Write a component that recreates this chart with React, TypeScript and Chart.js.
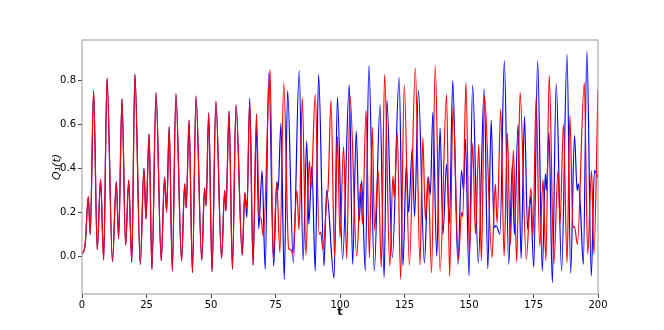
import React, { useEffect, useRef } from "react";
import { Chart, registerables } from "chart.js";

Chart.register(...registerables);

const FONT = "'DejaVu Sans', sans-serif";

const xTicks = [0, 25, 50, 75, 100, 125, 150, 175, 200];
const yTicks = [0.0, 0.2, 0.4, 0.6, 0.8];

// Both series coincide up to t ≈ 63
const sharedSeries: [number, number][] = [
  [0, 0.01], [1.2, 0.05], [2.45, 0.27], [3.2, 0.10], [4.5, 0.755], [5.9, 0.03],
  [7.2, 0.35], [8.4, -0.017], [9.7, 0.81], [11.8, -0.025], [13.3, 0.34], [14.2, 0.08],
  [15.5, 0.717], [16.9, 0.05], [18.1, 0.347], [19.3, -0.027], [20.5, 0.828], [22.6, -0.037],
  [24.0, 0.40], [24.8, 0.17], [26.0, 0.557], [27.1, -0.06], [28.7, 0.744], [30.7, -0.02],
  [32.0, 0.36], [32.8, 0.20], [33.8, 0.59], [35.0, -0.067], [36.4, 0.74], [38.6, -0.02],
  [39.8, 0.33], [40.4, 0.22], [41.5, 0.62], [42.8, -0.075], [44.2, 0.73], [46.4, -0.018],
  [47.5, 0.31], [48.1, 0.23], [49.1, 0.653], [50.4, -0.07], [51.9, 0.706], [54.1, -0.01],
  [55.3, 0.30], [55.8, 0.207], [57.0, 0.66], [58.3, -0.06], [59.7, 0.69], [62.1, 0.005],
  [63.1, 0.29],
];

const blueTail: [number, number][] = [
  [63.9, 0.176], [65.0, 0.72], [66.3, -0.04], [67.6, 0.60], [68.5, 0.125], [69.8, 0.39],
  [71.0, -0.06], [72.4, 0.834], [74.3, -0.045], [75.5, 0.34], [76.0, 0.30], [77.1, 0.605],
  [78.4, -0.105], [79.7, 0.755], [81.9, -0.03], [84.2, 0.846], [85.7, -0.02], [87.1, 0.526],
  [87.9, 0.146], [89.1, 0.41], [90.4, -0.067], [91.7, 0.828], [93.8, -0.044], [94.8, 0.30],
  [97.7, -0.10], [99.0, 0.724], [101.0, -0.014], [103.6, 0.78], [104.9, -0.037], [106.3, 0.57],
  [107.4, 0.16], [108.4, 0.344], [109.8, -0.067], [111.2, 0.87], [113.3, -0.067], [115.5, 0.69],
  [117.1, -0.098], [118.2, 0.71], [120.3, -0.006], [122.9, 0.815], [124.4, -0.044], [125.7, 0.42],
  [126.6, 0.20], [128.0, 0.49], [128.9, 0.18], [130.4, 0.755], [132.7, -0.03], [134.2, 0.36],
  [135.0, 0.28], [136.0, 0.656], [137.5, 0.0], [138.8, 0.584], [139.9, 0.10], [141.3, 0.42],
  [142.4, 0.15], [143.7, 0.80], [145.7, -0.037], [147.1, 0.39], [147.9, 0.30], [148.6, 0.534],
  [150.0, -0.09], [151.4, 0.78], [153.6, -0.03], [155.9, 0.763], [157.3, -0.057], [158.6, 0.62],
  [159.7, 0.13], [160.5, 0.14], [162.0, 0.10], [163.7, 0.89], [165.4, -0.037], [166.8, 0.42],
  [167.6, 0.10], [169.0, 0.60], [170.2, -0.01], [171.5, 0.636], [172.7, 0.123], [173.8, 0.27],
  [175.1, -0.05], [176.6, 0.89], [178.4, -0.067], [179.6, 0.377], [180.0, 0.30], [181.0, 0.564],
  [182.3, -0.12], [183.8, 0.785], [185.9, -0.067], [188.0, 0.92], [189.4, -0.078], [190.9, 0.55],
  [191.9, 0.30], [192.4, 0.33], [193.2, 0.22], [194.3, -0.037], [195.7, 0.934], [197.4, -0.09],
  [198.6, 0.39], [200, 0.36],
];

const redTail: [number, number][] = [
  [63.9, 0.215], [65.0, 0.70], [66.3, -0.04], [67.6, 0.65], [68.7, 0.19], [69.4, 0.17],
  [70.3, 0.09], [72.9, 0.85], [74.1, -0.006], [75.5, 0.336], [76.7, 0.016], [78.2, 0.79],
  [80.1, 0.035], [81.0, 0.03], [81.7, 0.01], [83.3, 0.30], [84.1, 0.12], [85.4, 0.72],
  [86.8, 0.006], [88.1, 0.435], [88.8, 0.31], [90.4, 0.737], [91.9, 0.10], [92.5, 0.11],
  [93.4, 0.03], [95.0, 0.28], [95.4, 0.31], [96.5, 0.71], [97.9, -0.006], [99.0, 0.545],
  [100.0, 0.085], [101.4, 0.50], [102.6, -0.01], [103.9, 0.73], [106.5, 0.0], [108.0, 0.33],
  [108.7, 0.146], [110.1, 0.665], [111.4, -0.006], [112.5, 0.587], [113.4, 0.12], [114.8, 0.39],
  [116.0, -0.05], [117.3, 0.828], [119.3, -0.044], [120.5, 0.366], [121.0, 0.27], [122.2, 0.564],
  [123.5, -0.105], [124.9, 0.78], [126.9, -0.04], [129.2, 0.857], [131.0, -0.04], [132.1, 0.54],
  [133.1, 0.165], [134.1, 0.36], [135.5, -0.075], [136.9, 0.87], [138.8, -0.067], [141.3, 0.737],
  [142.5, -0.09], [143.8, 0.678], [145.9, -0.02], [147.1, 0.20], [147.6, 0.18], [148.8, 0.79],
  [150.2, 0.02], [151.4, 0.515], [152.5, 0.10], [153.8, 0.51], [154.8, -0.02], [156.0, 0.73],
  [158.9, -0.006], [160.2, 0.33], [160.9, 0.15], [162.3, 0.67], [163.6, 0.0], [164.9, 0.56],
  [166.0, 0.05], [167.2, 0.484], [168.5, -0.025], [169.8, 0.747], [172.2, -0.014], [174.0, 0.31],
  [174.8, 0.09], [176.0, 0.725], [177.4, 0.047], [178.7, 0.35], [179.8, -0.02], [181.1, 0.823],
  [182.9, -0.034], [184.5, 0.39], [185.3, 0.15], [186.6, 0.60], [188.0, -0.03], [189.1, 0.64],
  [190.3, 0.13], [190.9, 0.135], [192.0, 0.055], [194.7, 0.79], [196.0, 0.01], [197.5, 0.39],
  [198.4, 0.01], [200, 0.76],
];

const framePlugin = {
  id: "frame",
  afterDatasetsDraw(chart: any) {
    const { ctx, chartArea: a } = chart;
    ctx.save();
    ctx.strokeStyle = "#9a9a9a";
    ctx.lineWidth = 1;
    ctx.strokeRect(a.left, a.top, a.right - a.left, a.bottom - a.top);
    ctx.restore();
  },
};

export default function App() {
  const canvasRef = useRef<HTMLCanvasElement | null>(null);

  useEffect(() => {
    if (!canvasRef.current) return;
    const toPts = (arr: [number, number][]) => arr.map(([x, y]) => ({ x, y }));
    const chart = new Chart(canvasRef.current, {
      type: "line",
      data: {
        datasets: [
          {
            label: "red",
            data: toPts([...sharedSeries, ...redTail]),
            borderColor: "#ff0000",
            borderWidth: 1.2,
            pointRadius: 0,
            cubicInterpolationMode: "monotone",
            fill: false,
          },
          {
            label: "blue",
            data: toPts([...sharedSeries, ...blueTail]),
            borderColor: "#0000ff",
            borderWidth: 1.2,
            pointRadius: 0,
            cubicInterpolationMode: "monotone",
            fill: false,
          },
        ],
      },
      options: {
        animation: false,
        responsive: false,
        layout: { padding: { left: 48, right: 66, top: 40, bottom: 0 } },
        plugins: { legend: { display: false }, tooltip: { enabled: false } },
        scales: {
          x: {
            type: "linear",
            min: 0,
            max: 200,
            afterFit: (s: any) => {
              s.height = 36;
            },
            afterBuildTicks: (s: any) => {
              s.ticks = xTicks.map((v) => ({ value: v }));
            },
            grid: { drawOnChartArea: false, drawTicks: true, tickLength: 4, color: "#444" },
            border: { display: false },
            ticks: {
              font: { family: FONT, size: 10 },
              color: "#000",
              padding: 1,
              maxRotation: 0,
              autoSkip: false,
              callback: (v: any) => String(v),
            },
            title: {
              display: true,
              text: "t",
              color: "#000",
              font: { family: FONT, size: 11, weight: "bold" },
              padding: { top: 0, bottom: 11 },
            },
          },
          y: {
            type: "linear",
            min: -0.172,
            max: 0.985,
            afterFit: (s: any) => {
              s.width = 34;
            },
            afterBuildTicks: (s: any) => {
              s.ticks = yTicks.map((v) => ({ value: v }));
            },
            grid: { drawOnChartArea: false, drawTicks: true, tickLength: 4, color: "#444" },
            border: { display: false },
            ticks: {
              font: { family: FONT, size: 10 },
              color: "#000",
              padding: 2,
              callback: (v: any) => Number(v).toFixed(1),
            },
            title: {
              display: true,
              text: "Q₁(t)",
              color: "#000",
              font: { family: FONT, size: 11, style: "italic" },
              padding: { top: 3, bottom: 0 },
            },
          },
        },
      },
      plugins: [framePlugin],
    });
    return () => chart.destroy();
  }, []);

  return (
    <div style={{ position: "absolute", left: 0, top: 0, width: 664, height: 330, background: "#fff" }}>
      <canvas ref={canvasRef} width={664} height={330} style={{ display: "block" }} />
    </div>
  );
}
